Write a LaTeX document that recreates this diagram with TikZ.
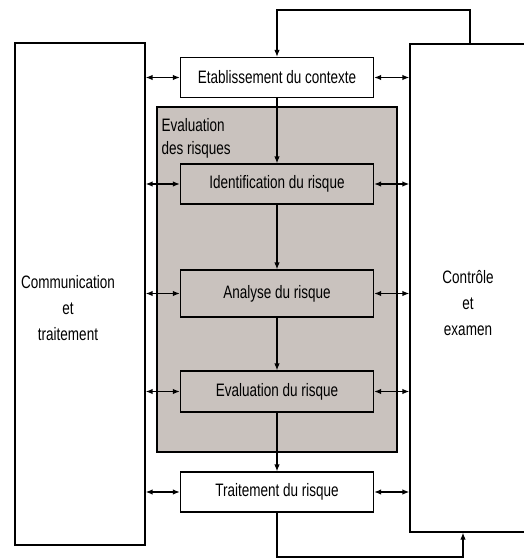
\documentclass[tikz,border=0pt]{standalone}
\usepackage{fontspec}
\setsansfont[FakeStretch=0.75]{Liberation Sans}
\usepackage{xcolor}
\usetikzlibrary{arrows.meta, positioning, calc}
\definecolor{riskgray}{RGB}{201,194,190}

\begin{document}
\begin{tikzpicture}[
    x=1pt, y=-1pt,
    font=\sffamily\fontsize{18}{26}\selectfont,
    block/.style={rectangle, draw, line width=1.2pt, minimum width=193pt, minimum height=40pt, inner sep=0pt},
    side/.style={rectangle, draw, line width=1.2pt, inner sep=0pt},
    label/.style={align=center, inner sep=0pt},
    arrow/.style={-{Latex[length=7pt,width=5.5pt]}, line width=1.2pt},
    twoway/.style={{Latex[length=7pt,width=5.5pt]}-{Latex[length=7pt,width=5.5pt]}, line width=1.6pt}
]
\useasboundingbox (0,0) rectangle (523,559);

% Side boxes
\node[side, minimum width=130pt, minimum height=502pt] (comm) at (80,294) {};
\node[label] (commtext) at (68,308) {Communication\\et\\traitement};
\node[side, minimum width=120pt, minimum height=488pt] (review) at (470,288) {};
\node[label] (reviewtext) at (468,303) {Contrôle\\et\\examen};

% Risk assessment
\node[side, fill=riskgray, minimum width=240pt, minimum height=345pt] (riskeval) at (277,279.5) {};
\node[label, align=left, below right=12pt and 5pt of riskeval.north west, font=\sffamily\fontsize{18}{23}\selectfont] (risklabel) {Evaluation\\des risques};

% Steps
\node[block, fill=white] (ctx) at (277,77.5) {Etablissement du contexte};
\node[block] (ident) at (277,184) {Identification du risque};
\node[block, minimum height=47pt] (analyse) at (277,293.5) {Analyse du risque};
\node[block, minimum height=41pt] (evalrisk) at (277,391.5) {Evaluation du risque};
\node[block, fill=white] (treat) at (277,492) {Traitement du risque};

\draw[arrow] (ctx) -- (ident);
\draw[arrow] (ident) -- (analyse);
\draw[arrow] (analyse) -- (evalrisk);
\draw[arrow] (evalrisk) -- (treat);

% Links to the side boxes
\foreach \s in {ctx, ident, analyse, evalrisk, treat} {
    \draw[twoway] (comm.east |- \s.west) -- (\s.west);
    \draw[twoway] (\s.east) -- (\s.east -| review.west);
}

% Feedback loops
\coordinate (topturn) at (470,10);
\draw[arrow] (review.north) -- (topturn) -| (ctx.north);
\coordinate (botturn) at (463,557);
\draw[arrow] (treat.south) |- (botturn) -- (botturn |- review.south);

\end{tikzpicture}
\end{document}
